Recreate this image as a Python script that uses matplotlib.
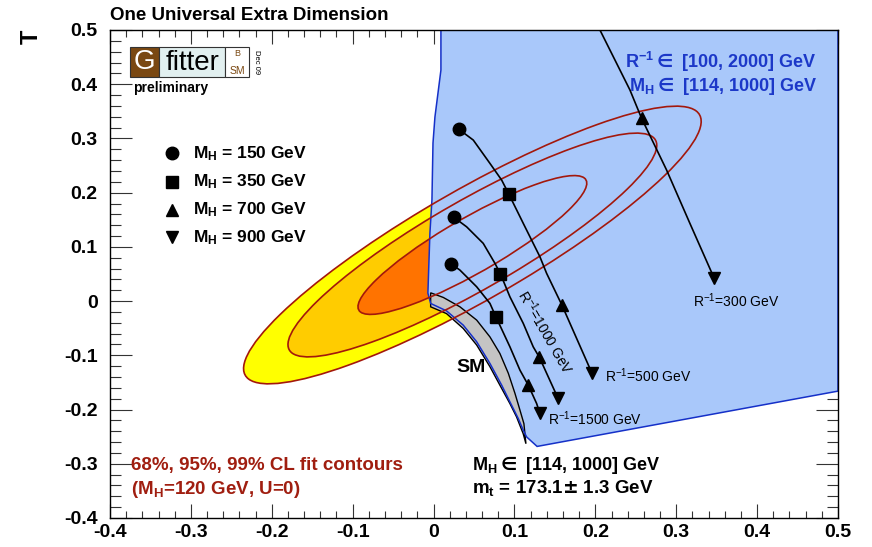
import matplotlib
matplotlib.use("Agg")
import matplotlib.pyplot as plt
from matplotlib.patches import Ellipse, Polygon, Rectangle
from matplotlib.ticker import MultipleLocator

plt.rcParams["font.family"] = ["Liberation Sans", "DejaVu Sans"]
plt.rcParams["font.weight"] = "bold"
plt.rcParams["axes.unicode_minus"] = False
plt.rcParams["mathtext.fontset"] = "dejavusans"

# fit contours (S, T), 99% / 95% / 68% CL
ell_center = (0.048, 0.1035)
ell_width = [0.742, 0.598, 0.371]
ell_height = [0.178, 0.1435, 0.089]
ell_angle = 41.8
ell_colors = ["#ffff00", "#ffcc00", "#ff7300"]

# UED allowed region (blue)
blue_x = [0.0091, 0.5, 0.5, 0.128, 0.115, 0.1109, 0.1047, 0.0944, 0.0842, 0.0697,
          0.0533, 0.0367, 0.016, -0.0036, -0.007, -0.0045, -0.002, -0.0007, 0.0017, 0.0091]
blue_y = [0.5, 0.5, -0.166, -0.268, -0.2504, -0.238, -0.2165, -0.1858, -0.155, -0.115,
          -0.075, -0.0443, -0.018, -0.0043, 0.0148, 0.1255, 0.1863, 0.2915, 0.3395, 0.426]

# SM band
sm_x = [-0.0036, 0.012, 0.0326, 0.0533, 0.0697, 0.082, 0.0924, 0.1006, 0.1068, 0.1117, 0.1142,
        0.1108, 0.1026, 0.0944, 0.082, 0.0697, 0.0533, 0.0367, 0.016, -0.0036]
sm_y = [0.0153, 0.0068, -0.0105, -0.035, -0.066, -0.0965, -0.133, -0.170, -0.201, -0.226, -0.263,
        -0.2445, -0.2135, -0.189, -0.155, -0.121, -0.081, -0.0505, -0.023, -0.0105]

# UED predictions vs M_H for fixed R^-1
r300_x = [0.2057, 0.2428, 0.2572, 0.2881, 0.3169, 0.3470]
r300_y = [0.5, 0.3893, 0.3371, 0.2417, 0.1434, 0.0419]
r500_x = [0.0314, 0.0491, 0.0697, 0.0842, 0.0932, 0.1109, 0.1315, 0.1398, 0.1587, 0.1958]
r500_y = [0.3168, 0.297, 0.254, 0.2232, 0.1969, 0.1434, 0.0817, 0.0511, -0.0074, -0.1328]
r1000_x = [0.0252, 0.0409, 0.0614, 0.0759, 0.0827, 0.0944, 0.1109, 0.1232, 0.1309, 0.1538]
r1000_y = [0.1544, 0.137, 0.1065, 0.0696, 0.0502, 0.0079, -0.0411, -0.0843, -0.1039, -0.179]
r1500_x = [0.0221, 0.0326, 0.0533, 0.0697, 0.0771, 0.0944, 0.1068, 0.1171, 0.1274, 0.1315]
r1500_y = [0.0683, 0.0572, 0.0264, -0.0042, -0.029, -0.0843, -0.1273, -0.155, -0.1888, -0.2072]

# marker positions per M_H (R^-1 = 300 has 150/350 GeV off the chart)
mh150_x = [0.0314, 0.0252, 0.0221]
mh150_y = [0.3168, 0.1544, 0.0683]
mh350_x = [0.0932, 0.0827, 0.0771]
mh350_y = [0.1969, 0.0502, -0.029]
mh700_x = [0.2572, 0.1587, 0.1309, 0.1171]
mh700_y = [0.3371, -0.0074, -0.1039, -0.155]
mh900_x = [0.3470, 0.1958, 0.1538, 0.1315]
mh900_y = [0.0419, -0.1328, -0.179, -0.2072]

fig = plt.figure(figsize=(8.72, 5.47), dpi=100)
ax = fig.add_axes([110 / 872, 29 / 547, 728 / 872, 488 / 547])

for w, h, c in zip(ell_width, ell_height, ell_colors):
    ax.add_patch(Ellipse(ell_center, w, h, angle=ell_angle, fc=c, ec="none", zorder=1))

ax.add_patch(Polygon(list(zip(blue_x, blue_y)), closed=True, fc="#a9c8fa", ec="none", zorder=2))
ax.add_patch(Polygon(list(zip(sm_x, sm_y)), closed=True, fc="#c4c4c4", ec="black", lw=1.0, zorder=3))
ax.add_patch(Polygon(list(zip(blue_x, blue_y)), closed=True, fill=False, ec="#1530c8", lw=1.1, zorder=3.5))

for w, h in zip(ell_width, ell_height):
    ax.add_patch(Ellipse(ell_center, w, h, angle=ell_angle, fill=False, ec="#a3180c", lw=1.2, zorder=4))

for xs, ys in [(r300_x, r300_y), (r500_x, r500_y), (r1000_x, r1000_y), (r1500_x, r1500_y)]:
    ax.plot(xs, ys, color="black", lw=1.2, zorder=5, solid_joinstyle="round")

mk = dict(color="black", ls="none", zorder=6)
ax.plot(mh150_x, mh150_y, marker="o", ms=9, **mk)
ax.plot(mh350_x, mh350_y, marker="s", ms=8, **mk)
ax.plot(mh700_x, mh700_y, marker="^", ms=8.5, **mk)
ax.plot(mh900_x, mh900_y, marker="v", ms=8.5, **mk)

# R^-1 labels
rl = dict(fontsize=10, fontweight="normal", zorder=7)
ax.text(0.3206, -0.011, r"$\mathregular{R^{-1}}$=300 GeV", **rl)
ax.text(0.2119, -0.1494, r"$\mathregular{R^{-1}}$=500 GeV", **rl)
ax.text(0.1414, -0.2288, r"$\mathregular{R^{-1}}$=1500 GeV", **rl)
ax.text(0.139, -0.057, r"$\mathregular{R^{-1}}$=1000 GeV", rotation=-60, ha="center", va="center",
        rotation_mode="anchor", **rl)
ax.text(0.0462, -0.1218, "SM", fontsize=14, ha="center", va="center", zorder=7)

ax.set_xlim(-0.4, 0.5)
ax.set_ylim(-0.4, 0.5)
ax.xaxis.set_major_locator(MultipleLocator(0.1))
ax.xaxis.set_minor_locator(MultipleLocator(0.02))
ax.yaxis.set_major_locator(MultipleLocator(0.1))
ax.yaxis.set_minor_locator(MultipleLocator(0.02))
ax.xaxis.set_major_formatter(plt.FuncFormatter(lambda v, p: "0" if abs(v) < 1e-9 else f"{v:.1f}"))
ax.yaxis.set_major_formatter(plt.FuncFormatter(lambda v, p: "0" if abs(v) < 1e-9 else f"{v:.1f}"))
ax.tick_params(which="both", direction="in", top=True, right=True, labelsize=14, width=0.8, color="#333333")
ax.tick_params(axis="x", which="major", length=10, pad=4)
ax.tick_params(axis="x", which="minor", length=5)
ax.tick_params(axis="y", which="major", length=16, pad=9)
ax.tick_params(axis="y", which="minor", length=8)
for s in ax.spines.values():
    s.set_linewidth(1.0)
    s.set_zorder(10)

fig.text(110 / 872, 1 - 15 / 547, "One Universal Extra Dimension", fontsize=13.5, va="center")
fig.text(31 / 872, 1 - 37 / 547, "T", fontsize=17, rotation=90, ha="center", va="center")

# legend
leg_y = [0.747, 0.689, 0.631, 0.575]
leg_m = ["o", "s", "^", "v"]
leg_ms = [9, 8, 8.5, 8.5]
leg_lab = ["150", "350", "700", "900"]
for y, m, s, lab in zip(leg_y, leg_m, leg_ms, leg_lab):
    ax.plot([0.0848], [y], marker=m, ms=s, color="black", transform=ax.transAxes, clip_on=False)
    ax.text(0.1136, y, r"$\mathregular{M_H}$ = " + lab + " GeV", fontsize=12.5, va="center",
            transform=ax.transAxes)

blue_txt = "#1c38c8"
ax.text(0.971, 0.9215, r"$\mathregular{R^{-1}}\in$ [100, 2000] GeV", color=blue_txt, fontsize=13,
        ha="right", va="baseline", transform=ax.transAxes, zorder=8)
ax.text(0.971, 0.8756, r"$\mathregular{M_H}\in$ [114, 1000] GeV", color=blue_txt, fontsize=13,
        ha="right", va="baseline", transform=ax.transAxes, zorder=8)

red_txt = "#a01e10"
ax.text(0.0288, 0.0984, "68%, 95%, 99% CL fit contours", color=red_txt, fontsize=13.5,
        va="baseline", transform=ax.transAxes)
ax.text(0.0288, 0.049, r"(M$_\mathregular{H}$=120 GeV, U=0)", color=red_txt, fontsize=13.5,
        va="baseline", transform=ax.transAxes)

ax.text(0.497, 0.0984, r"M$_\mathregular{H}\in$ [114, 1000] GeV", fontsize=13, va="baseline",
        transform=ax.transAxes)
ax.text(0.497, 0.049, r"m$_\mathregular{t}$ = 173.1$\pm$ 1.3 GeV", fontsize=13.5, va="baseline",
        transform=ax.transAxes)

# Gfitter logo
brown = "#7a4812"
ax.add_patch(Rectangle((0.0275, 0.9043), 0.0402, 0.0603, fc=brown, ec="#333333", lw=0.8,
                       transform=ax.transAxes, zorder=8))
ax.add_patch(Rectangle((0.0677, 0.9043), 0.0903, 0.0603, fc="#e2f0f0", ec="#333333", lw=0.8,
                       transform=ax.transAxes, zorder=8))
ax.add_patch(Rectangle((0.158, 0.9043), 0.0333, 0.0603, fc="white", ec="#333333", lw=0.8,
                       transform=ax.transAxes, zorder=8))
ax.text(0.0476, 0.934, "G", color="white", fontsize=20, fontweight="normal", ha="center", va="center",
        transform=ax.transAxes, zorder=9)
ax.text(0.1128, 0.932, "fitter", color="black", fontsize=20, fontweight="normal", ha="center", va="center",
        transform=ax.transAxes, zorder=9)
ax.text(0.1746, 0.951, "B", color=brown, fontsize=6.5, fontweight="normal", ha="center", va="center",
        transform=ax.transAxes, zorder=9)
ax.text(0.1746, 0.917, "SM", color=brown, fontsize=7.5, fontweight="normal", ha="center", va="center",
        transform=ax.transAxes, zorder=9)
ax.text(0.2015, 0.934, "Dec 09", fontsize=5.5, fontweight="normal", rotation=-90, ha="center", va="center",
        transform=ax.transAxes, zorder=9)
ax.text(0.0316, 0.881, "preliminary", fontsize=10, va="center", transform=ax.transAxes, zorder=9)

fig.savefig("out.png", dpi=100)
